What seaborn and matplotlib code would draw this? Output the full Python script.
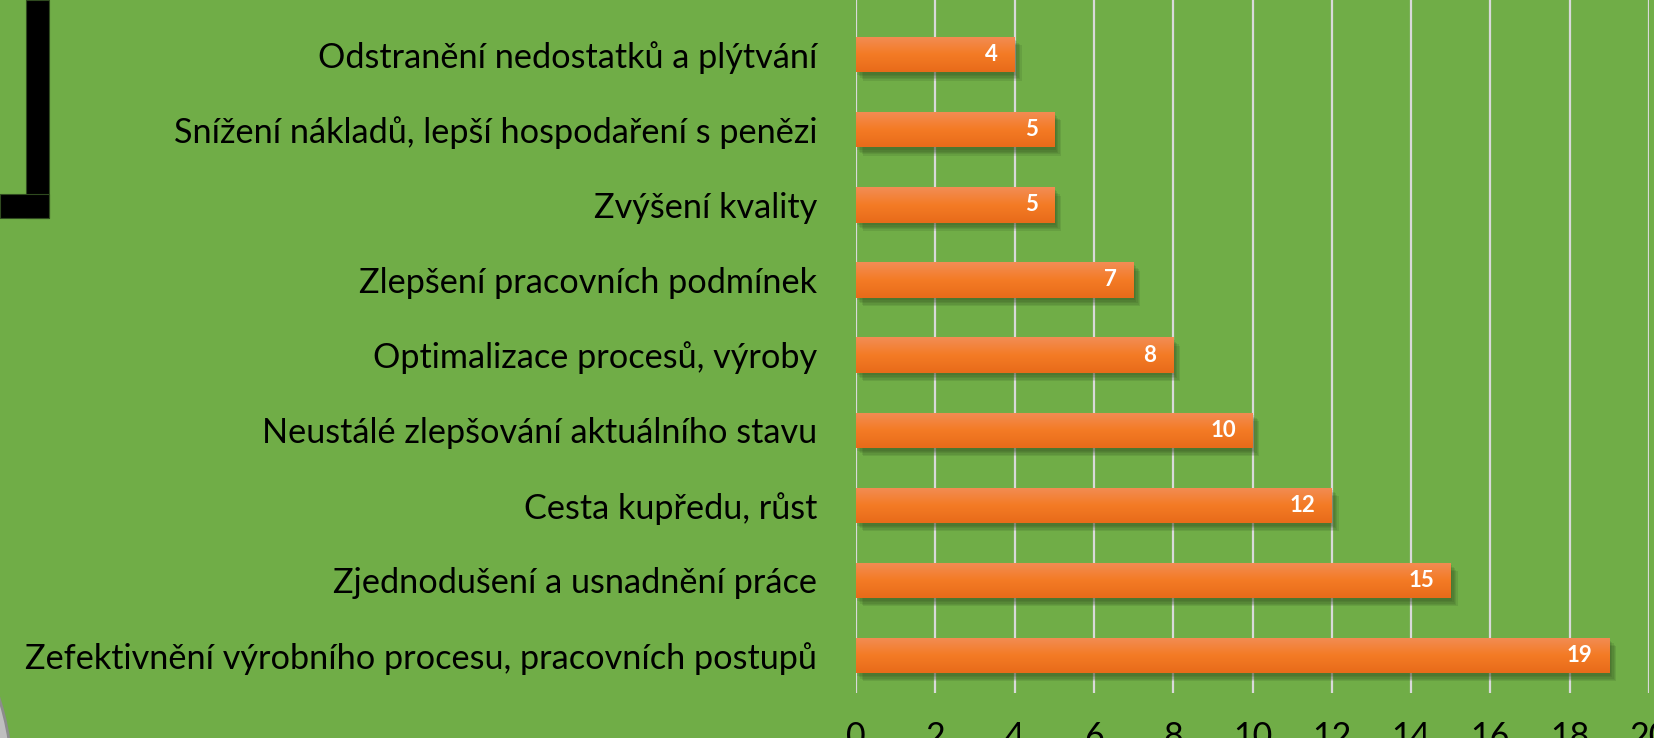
import matplotlib
matplotlib.use("Agg")
import matplotlib.pyplot as plt
import matplotlib.patheffects as pe
from matplotlib.patches import Rectangle, Ellipse
import seaborn as sns
import numpy as np
import pandas as pd

# data, top to bottom as in the chart
categories = [
    "Odstranění nedostatků a plýtvání",
    "Snížení nákladů, lepší hospodaření s penězi",
    "Zvýšení kvality",
    "Zlepšení pracovních podmínek",
    "Optimalizace procesů, výroby",
    "Neustálé zlepšování aktuálního stavu",
    "Cesta kupředu, růst",
    "Zjednodušení a usnadnění práce",
    "Zefektivnění výrobního procesu, pracovních postupů",
]
counts = [4, 5, 5, 7, 8, 10, 12, 15, 19]
x_ticks = [0, 2, 4, 6, 8, 10, 12, 14, 16, 18, 20]

GREEN = "#70AD47"
ORANGE = "#F07A28"
W, H = 1654, 738

sns.set_theme(style="white")
plt.rcParams["font.family"] = ["Lato", "DejaVu Sans"]

df = pd.DataFrame({"kategorie": categories, "pocet": counts})

fig = plt.figure(figsize=(W / 100, H / 100), dpi=100)
fig.patch.set_facecolor(GREEN)
ax = fig.add_axes([856 / W, 1 - 693 / H, 793 / W, 693 / H])
ax.set_facecolor(GREEN)

sns.barplot(data=df, x="pocet", y="kategorie", orient="h", color=ORANGE,
            width=0.47, saturation=1, ax=ax, zorder=3)

# gradient + soft shadow on each bar
grad = np.linspace(0, 1, 64).reshape(-1, 1)
cmap = matplotlib.colors.LinearSegmentedColormap.from_list(
    "bar", ["#F28D55", "#F47B25", "#E86B1A"])
shadow = [pe.SimplePatchShadow(offset=(o, -o - 1), shadow_rgbFace="#2f4a1f", alpha=0.14)
          for o in (1, 2, 3, 4, 5)]
for p in ax.patches:
    p.set_edgecolor("none")
    p.set_path_effects(shadow + [pe.Normal()])
    x0, y0 = p.get_x(), p.get_y()
    w, h = p.get_width(), p.get_height()
    im = ax.imshow(grad, cmap=cmap, aspect="auto", extent=(x0, x0 + w, y0 + h, y0),
                   zorder=4, interpolation="bicubic")
    im.set_clip_path(p)
    ax.text(x0 + w - 0.42, y0 + h / 2, str(int(w)), ha="right", va="center",
            color="white", fontsize=16, fontweight="bold", zorder=5)

ax.set_xlim(0, 20)
ax.set_ylim(8.5, -0.728)
ax.set_xticks(x_ticks)
ax.grid(axis="x", color="#D9D9D9", linewidth=1.6)
ax.grid(axis="y", visible=False)
ax.set_axisbelow(True)
for s in ax.spines.values():
    s.set_visible(False)
ax.tick_params(axis="x", length=0, pad=20, labelsize=24.5, labelcolor="black")
ax.tick_params(axis="y", length=0, pad=28, labelsize=24.7, labelcolor="black")
ax.set_xlabel("")
ax.set_ylabel("")

# decoration: black bracket top-left
fig.add_artist(Rectangle((26 / W, 1 - 218 / H), 23 / W, 218 / H, transform=fig.transFigure,
                         facecolor="black", edgecolor="#2f4a1f", linewidth=0.8))
fig.add_artist(Rectangle((0, 1 - 218 / H), 49 / W, 24 / H, transform=fig.transFigure,
                         facecolor="black", edgecolor="#2f4a1f", linewidth=0.8))
# grey shape bottom-left
fig.add_artist(Ellipse((-253 / W, -42 / H), 530 / W, 530 / H, transform=fig.transFigure,
                       facecolor="#BFBFBF", edgecolor="#8C8C8C", linewidth=2))

fig.savefig("out.png", dpi=100, facecolor=GREEN)
